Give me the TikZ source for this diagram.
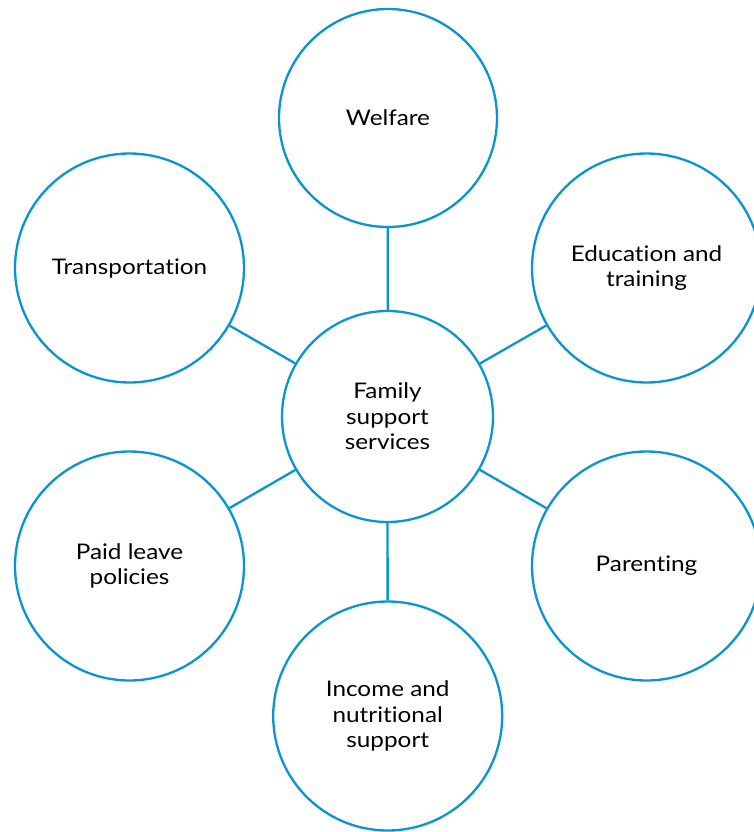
\documentclass[tikz,border=0pt]{standalone}
\usepackage{fontspec}
\setmainfont[FakeStretch=1.13, Ligatures=NoCommon]{Lato}
\definecolor{ringblue}{HTML}{0A94D0}
\tikzset{
    topic/.style={circle, draw=ringblue, line width=2.3pt, fill=white, align=center, inner sep=0pt, font=\fontsize{21.5}{25.5}\selectfont},
    link/.style={draw=ringblue, line width=2.3pt}
}
\begin{document}
\begin{tikzpicture}[x=1pt,y=-1pt]
    \useasboundingbox (0,0) rectangle (753,832);
    % hub and the six service areas
    \node[topic, minimum size=211pt] (hub) at (387.5,416.5) {Family\\support\\services};
    \node[topic, minimum size=218pt] (welfare) at (388,118) {Welfare};
    \node[topic, minimum size=229pt] (transport) at (129.5,268) {Transportation};
    \node[topic, minimum size=229pt] (education) at (646.5,268) {Education and\\training};
    \node[topic, minimum size=229pt] (leave) at (129.5,566) {Paid leave\\policies};
    \node[topic, minimum size=229pt] (parenting) at (646.5,566) {Parenting};
    \node[topic, minimum size=229pt] (income) at (387.7,716) {Income and\\nutritional\\support};
    % spokes
    \foreach \n in {welfare,transport,education,leave,parenting,income} {
        \draw[link] (hub) -- (\n);
    }
\end{tikzpicture}
\end{document}
